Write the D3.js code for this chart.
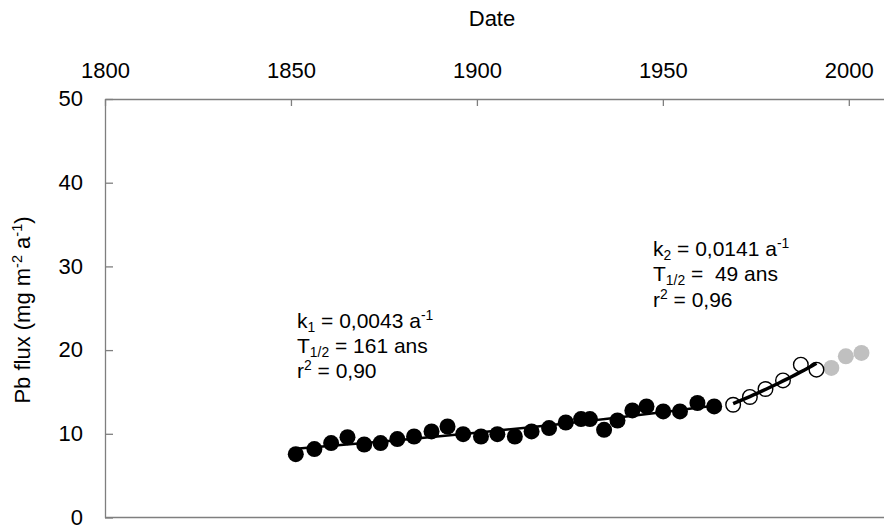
<!DOCTYPE html>
<html>
<head>
<meta charset="utf-8">
<script src="https://cdn.jsdelivr.net/npm/d3@7"></script>
<style>
  html, body { margin: 0; padding: 0; background: #fff; }
  svg text { font-family: "Liberation Sans", Arial, sans-serif; fill: #000; }
</style>
</head>
<body>
<svg id="chart" width="884" height="527"></svg>
<script>
// ---- Data ----
const xTicks = [1800, 1850, 1900, 1950, 2000];
const yTicks = [0, 10, 20, 30, 40, 50];

// Period 1 (filled black)
const years1 = [1851.3, 1856.3, 1860.8, 1865.2, 1869.7, 1874.1, 1878.6, 1883.1, 1887.8, 1892.1,
                1896.3, 1901.1, 1905.5, 1910.2, 1914.7, 1919.4, 1923.9, 1928.0, 1930.4, 1934.2,
                1937.8, 1941.8, 1945.6, 1950.1, 1954.6, 1959.3, 1963.8];
const flux1  = [7.57, 8.17, 8.89, 9.60, 8.72, 8.89, 9.37, 9.68, 10.28, 10.87,
                9.96, 9.68, 9.96, 9.68, 10.28, 10.68, 11.35, 11.76, 11.76, 10.48,
                11.59, 12.79, 13.27, 12.67, 12.67, 13.68, 13.27];
// Period 2 (open circles)
const years2 = [1968.9, 1973.4, 1977.6, 1982.3, 1987.1, 1991.3];
const flux2  = [13.47, 14.40, 15.35, 16.38, 18.26, 17.66];
// Recent (grey)
const years3 = [1995.3, 1999.2, 2003.4];
const flux3  = [17.87, 19.26, 19.66];

const note1 = [["k", "n"], ["1", "sub"], [" = 0,0043 a", "n"], ["-1", "sup"]];
const note1b = [["T", "n"], ["1/2", "sub"], [" = 161 ans", "n"]];
const note1c = [["r", "n"], ["2", "sup"], [" = 0,90", "n"]];
const note2 = [["k", "n"], ["2", "sub"], [" = 0,0141 a", "n"], ["-1", "sup"]];
const note2b = [["T", "n"], ["1/2", "sub"], [" =  49 ans", "n"]];
const note2c = [["r", "n"], ["2", "sup"], [" = 0,96", "n"]];
const yLabel = [["Pb flux (mg m", "n"], ["-2", "sup"], [" a", "n"], ["-1", "sup"], [")", "n"]];

// ---- Chart ----
const svg = d3.select("#chart");
const FS = 22;
const FA = 21;
const x = d3.scaleLinear().domain([1800, 2010]).range([105, 886]);
const y = d3.scaleLinear().domain([0, 50]).range([517.5, 99]);
const axisColor = "#7f7f7f";

// x axis on top
const gx = svg.append("g").attr("transform", `translate(0,${y(50)})`)
  .call(d3.axisTop(x).tickValues(xTicks).tickFormat(d3.format("d"))
        .tickSizeInner(-7).tickSizeOuter(0).tickPadding(21));
// y axis on left
const gy = svg.append("g").attr("transform", `translate(${x(1800)},0)`)
  .call(d3.axisLeft(y).tickValues(yTicks).tickFormat(d3.format("d"))
        .tickSizeInner(-8).tickSizeOuter(0).tickPadding(22));
[gx, gy].forEach(g => {
  g.selectAll(".domain").attr("stroke", axisColor).attr("stroke-width", 1.3);
  g.selectAll(".tick line").attr("stroke", axisColor).attr("stroke-width", 1.3);
  g.selectAll(".tick text").attr("font-size", FS).attr("font-family", "Liberation Sans, Arial, sans-serif").attr("fill", "#000");
});
gy.selectAll(".tick text").attr("dy", "0.3em");
// bottom border line
svg.append("line")
  .attr("x1", x(1800)).attr("x2", x(2010))
  .attr("y1", y(0)).attr("y2", y(0))
  .attr("stroke", axisColor).attr("stroke-width", 1.3);

// axis titles
svg.append("text").attr("x", 492).attr("y", 26).attr("text-anchor", "middle")
  .attr("font-size", FS).text("Date");

function rich(sel, segs, fs) {
  let shift = 0;
  segs.forEach(([t, kind]) => {
    const ts = sel.append("tspan").text(t);
    let target = 0, size = fs;
    if (kind === "sub") { target = fs * 0.2; size = fs * 0.66; }
    if (kind === "sup") { target = -fs * 0.38; size = fs * 0.66; }
    ts.attr("dy", target - shift).attr("font-size", size);
    shift = target;
  });
}

const yl = svg.append("text")
  .attr("transform", "translate(30,310) rotate(-90)")
  .attr("text-anchor", "middle").attr("font-size", FS);
rich(yl, yLabel, FS);

// fits: exponential regression on each period
function expFit(xs, ys) {
  const n = xs.length;
  const ly = ys.map(Math.log);
  const mx = d3.mean(xs), my = d3.mean(ly);
  let sxy = 0, sxx = 0;
  for (let i = 0; i < n; i++) { sxy += (xs[i] - mx) * (ly[i] - my); sxx += (xs[i] - mx) ** 2; }
  const b = sxy / sxx, a = my - b * mx;
  return t => Math.exp(a + b * t);
}
function fitLine(xs, ys) {
  const f = expFit(xs, ys);
  return d3.range(0, 21).map(i => {
    const t = xs[0] + (xs[xs.length - 1] - xs[0]) * i / 20;
    return [t, f(t)];
  });
}
const line = d3.line().x(d => x(d[0])).y(d => y(d[1]));

const R = 8;
// points period 1
svg.append("g").selectAll("circle").data(years1.map((t, i) => [t, flux1[i]])).join("circle")
  .attr("cx", d => x(d[0])).attr("cy", d => y(d[1])).attr("r", R).attr("fill", "#000");
// grey
svg.append("g").selectAll("circle").data(years3.map((t, i) => [t, flux3[i]])).join("circle")
  .attr("cx", d => x(d[0])).attr("cy", d => y(d[1])).attr("r", R).attr("fill", "#c0c0c0");
// open
svg.append("g").selectAll("circle").data(years2.map((t, i) => [t, flux2[i]])).join("circle")
  .attr("cx", d => x(d[0])).attr("cy", d => y(d[1])).attr("r", R - 0.7)
  .attr("fill", "none").attr("stroke", "#000").attr("stroke-width", 1.4);

svg.append("path").datum(fitLine(years1, flux1)).attr("d", line)
  .attr("fill", "none").attr("stroke", "#000").attr("stroke-width", 2.5);
svg.append("path").datum(fitLine(years2, flux2)).attr("d", line)
  .attr("fill", "none").attr("stroke", "#000").attr("stroke-width", 3.5);

// annotations
[[note1, 297, 328], [note1b, 297, 353], [note1c, 297, 378],
 [note2, 653, 256], [note2b, 653, 281], [note2c, 653, 307]].forEach(([segs, tx, ty]) => {
  const t = svg.append("text").attr("x", tx).attr("y", ty).attr("font-size", FA)
    .style("white-space", "pre").attr("xml:space", "preserve");
  rich(t, segs, FA);
});
</script>
</body>
</html>
